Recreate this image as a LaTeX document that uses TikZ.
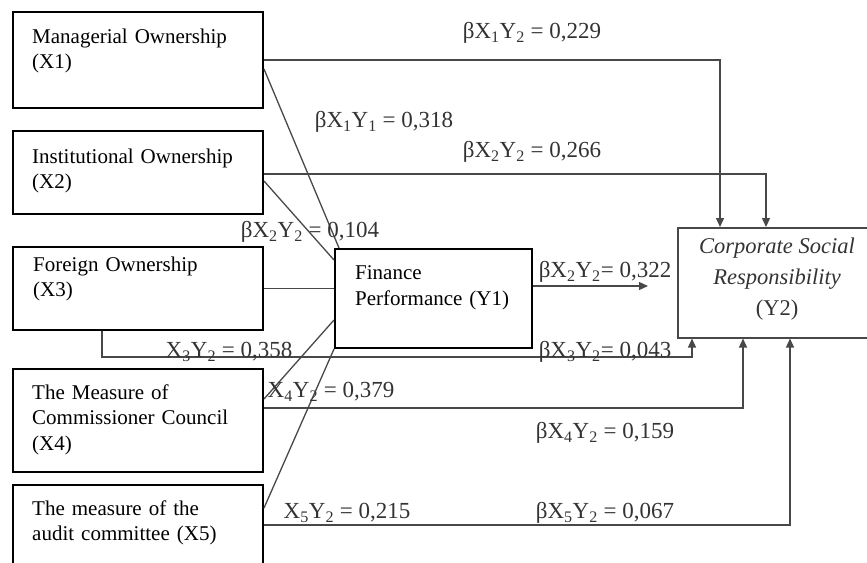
\documentclass[tikz,border=0pt]{standalone}
\usepackage{fontspec}
\setmainfont{Liberation Serif}
\usetikzlibrary{arrows.meta,calc}
\definecolor{conn}{HTML}{484848}
\definecolor{lab}{HTML}{333333}
\begin{document}
\begin{tikzpicture}[x=1pt,y=-1pt,
  box/.style={draw=black,line width=2pt,rectangle,inner sep=0pt,anchor=north west},
  ybox/.style={draw=conn,line width=1.5pt,rectangle,inner sep=0pt,anchor=north west},
  btext/.style={anchor=base west,inner sep=0pt,text width=235pt,align=left,
    font=\fontsize{21}{25.5}\selectfont},
  lbl/.style={inner sep=0pt,text=lab,font=\fontsize{23}{27}\selectfont},
  cline/.style={draw=conn,line width=1.3pt},
  arr/.style={draw=conn,line width=1.3pt,-{Triangle[length=9pt,width=8pt]}}]
\useasboundingbox (0,0) rectangle (867,562);
\clip (0,0) rectangle (867,562);
% boxes
\node[box,minimum width=250pt,minimum height=96pt] (x1) at (12,11) {};
\node[box,minimum width=250pt,minimum height=83pt] (x2) at (12,130) {};
\node[box,minimum width=250pt,minimum height=83pt] (x3) at (12,246) {};
\node[box,minimum width=250pt,minimum height=103pt] (x4) at (12,368) {};
\node[box,minimum width=250pt,minimum height=80pt] (x5) at (12,484) {};
\node[box,minimum width=197pt,minimum height=99pt] (y1) at (334,248) {};
\node[ybox,minimum width=200pt,minimum height=110pt] (y2) at (677,227) {};
% box texts
\node[btext] (t1) at (32,43) {Managerial Ownership\\(X1)};
\node[btext] (t2) at (32,163) {Institutional Ownership\\(X2)};
\node[btext] (t3) at (33,271) {Foreign Ownership\\(X3)};
\node[btext] (t4) at (32,399) {The Measure of\\Commissioner Council\\(X4)};
\node[btext] (t5) at (32,515) {The measure of the\\audit committee (X5)};
\node[btext,text width=175pt,font=\fontsize{21}{26}\selectfont] (ty1) at (355,279) {Finance\\Performance (Y1)};
\node[inner sep=0pt,align=center,text=lab,font=\fontsize{22.5}{31}\selectfont] (ty2) at (777,279)
  {\itshape Corporate Social\\\itshape Responsibility\\(Y2)};
% connectors to Y1
\draw[cline] ([yshift=-9pt]x1.east) -- ([xshift=5pt]y1.north west);
\draw[cline] ([yshift=-8.5pt]x2.east) -- ([yshift=-12pt]y1.north west);
\draw[cline] (x3.east) -- (x3.east -| y1.west);
\draw[cline] ([yshift=21.5pt]x4.east) -- ([yshift=-72pt]y1.north west);
\draw[cline] ([yshift=17pt]x5.east) -- (y1.south west);
% connectors to Y2
\draw[arr] (x1.east) -| ([xshift=43pt]y2.north west);
\draw[arr] ([yshift=-1.5pt]x2.east) -| ([xshift=89pt]y2.north west);
\draw[arr] ([xshift=90pt]x3.south west) -- ++(0,26) -| ([xshift=15pt]y2.south west);
\draw[arr] ([yshift=12.5pt]x4.east) -| ([xshift=66pt]y2.south west);
\draw[arr] (x5.east) -| ([xshift=113pt]y2.south west);
\coordinate (y1tip) at (648,286);
\draw[arr] (y1tip -| y1.east) -- (y1tip);
% labels
\node[lbl] (l1) at (532,33) {βX\textsubscript{1}Y\textsubscript{2} = 0,229};
\node[lbl] (l2) at (384,122) {βX\textsubscript{1}Y\textsubscript{1} = 0,318};
\node[lbl] (l3) at (532,152) {βX\textsubscript{2}Y\textsubscript{2} = 0,266};
\node[lbl] (l4) at (310,232) {βX\textsubscript{2}Y\textsubscript{2} = 0,104};
\node[lbl] (l5) at (605,272) {βX\textsubscript{2}Y\textsubscript{2}= 0,322};
\node[lbl] (l6) at (229,352) {X\textsubscript{3}Y\textsubscript{2} = 0,358};
\node[lbl] (l7) at (605,352) {βX\textsubscript{3}Y\textsubscript{2}= 0,043};
\node[lbl] (l8) at (331,392) {X\textsubscript{4}Y\textsubscript{2} = 0,379};
\node[lbl] (l9) at (605,433) {βX\textsubscript{4}Y\textsubscript{2} = 0,159};
\node[lbl] (l10) at (347,513) {X\textsubscript{5}Y\textsubscript{2} = 0,215};
\node[lbl] (l11) at (605,513) {βX\textsubscript{5}Y\textsubscript{2} = 0,067};
\end{tikzpicture}
\end{document}
